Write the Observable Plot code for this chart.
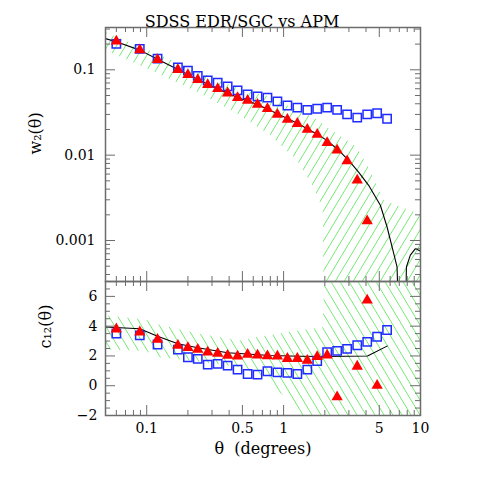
<!DOCTYPE html>
<html><head><meta charset="utf-8">
<script src="https://cdn.jsdelivr.net/npm/d3@7"></script>
<script src="https://cdn.jsdelivr.net/npm/@observablehq/plot@0.6"></script>
<style>
body{margin:0;background:#fff;}
#wrap{position:relative;width:491px;height:491px;}
#wrap svg{position:absolute;left:0;top:0;}
</style></head><body>
<div id="wrap"></div>
<script>
// ---- data ----
const theta = [0.060, 0.089, 0.120, 0.169, 0.200, 0.236, 0.279, 0.330, 0.390, 0.461, 0.546, 0.645, 0.762, 0.901, 1.066, 1.26, 1.49, 1.76, 2.08, 2.46, 2.91, 3.45, 4.08, 4.82, 5.70];
const w2APM  = [0.201, 0.176, 0.135, 0.107, 0.098, 0.085, 0.075, 0.0705, 0.0638, 0.0573, 0.0514, 0.0487, 0.0471, 0.0426, 0.0382, 0.036, 0.034, 0.035, 0.036, 0.034, 0.030, 0.0275, 0.030, 0.031, 0.0267];
const w2SDSS = [0.216, 0.171, 0.131, 0.100, 0.0874, 0.0764, 0.0668, 0.060, 0.0533, 0.0471, 0.0437, 0.0393, 0.035, 0.030, 0.0262, 0.0234, 0.020, 0.0175, 0.014, 0.0114, 0.00853, 0.00507, 0.00169, null, null];
const c12APM  = [3.51, 3.38, 2.77, 2.43, 1.91, 1.80, 1.42, 1.47, 1.35, 1.08, 0.79, 0.74, 0.97, 0.90, 0.86, 0.79, 1.08, 1.66, 2.25, 2.34, 2.48, 2.72, 2.95, 3.29, 3.74];
const c12SDSS = [3.8, 3.6, 3.1, 2.7, 2.55, 2.43, 2.25, 2.16, 2.03, 1.98, 2.09, 2.05, 2.0, 1.98, 1.82, 1.82, 1.70, 1.94, 2.05, -0.76, null, 1.30, 5.74, 0.02, null];

const lineTopTheta = [0.05, 0.06, 0.089, 0.12, 0.169, 0.236, 0.33, 0.461, 0.645, 0.901, 1.26, 1.76, 2.07, 2.45, 2.99, 3.53, 4.18, 5.09, 5.70, 6.37, 6.74, 6.95, 7.3, 7.77, 7.89, 8.43, 9.18, 9.71, 10];
const lineTopW = [0.232, 0.213, 0.170, 0.133, 0.101, 0.0770, 0.0600, 0.0475, 0.0392, 0.0305, 0.0236, 0.0176, 0.0149, 0.0119, 0.0087, 0.00634, 0.00443, 0.00259, 0.00144, 0.000705, 0.00049, 0.0001, null, 0.0001, 0.00049, 0.000673, 0.000805, 0.00077, 0.00075];
const lineBotTheta = [0.05, 0.089, 0.12, 0.169, 0.236, 0.39, 0.8, 1.3, 2.0, 4.1, 5.7];
const lineBotC = [3.94, 3.83, 3.33, 2.82, 2.55, 2.21, 2.03, 1.98, 1.96, 2.0, 2.66];

const bandTopTheta = [0.05, 0.1, 0.245, 0.48, 0.8, 1.26, 1.7, 1.95, 2.0, 3.45, 4.3, 5.36, 6.55, 10];
const bandTopHi = [0.273, 0.173, 0.093, 0.0589, 0.048, 0.0334, 0.0269, 0.0229, 0.022, 0.0123, 0.0066, 0.0030, 0.0026, 0.0020];
const bandTopLo = [0.168, 0.1035, 0.0529, 0.0292, 0.017, 0.0087, 0.0039, 0.00226, 0.00001, 0.00001, 0.00001, 0.00001, 0.00001, 0.00001];
const bandBotTheta = [0.05, 0.1, 0.12, 0.245, 0.48, 0.71, 0.8, 1.13, 1.32, 1.95, 2.0, 10];
const bandBotLo = [2.4, 2.3, 1.9, 1.6, 1.2, 0.6, 0.2, -1.2, -2.5, -2.5, -2.5, -2.5];
const bandBotHi = [4.7, 4.4, 4.1, 3.45, 3.0, 3.3, 3.35, 3.6, 3.7, 3.9, 7.5, 7.5];

const xMajor = [0.1, 0.5, 1, 5, 10];
const xLabels = ["0.1", "0.5", "1", "5", "10"];
const xMinor = [0.05, 0.06, 0.07, 0.08, 0.09, 0.2, 0.3, 0.4, 0.6, 0.7, 0.8, 0.9, 2, 3, 4, 6, 7, 8, 9];
const yTopMajor = [0.1, 0.01, 0.001];
const yTopLabels = ["0.1", "0.01", "0.001"];
const yTopMinor = [0.0004, 0.0005, 0.0006, 0.0007, 0.0008, 0.0009, 0.002, 0.003, 0.004, 0.005, 0.006, 0.007, 0.008, 0.009, 0.02, 0.03, 0.04, 0.05, 0.06, 0.07, 0.08, 0.09, 0.2, 0.3];
const yBotMajor = [-2, 0, 2, 4, 6];
const yBotLabels = ["\u22122", "0", "2", "4", "6"];
const yBotMinor = [-1.5, -1, -0.5, 0.5, 1, 1.5, 2.5, 3, 3.5, 4.5, 5, 5.5, 6.5, 7];

const titleText = "SDSS EDR/SGC vs APM";
const xTitle = "\u03B8  (degrees)";
const yTopTitle = "w\u2082(\u03B8)";
const yBotTitle = "c\u2081\u2082(\u03B8)";

// ---- styles ----
const AX = "#6c6c6c", BLUE = "#1f2bff", RED = "#ff0000", HATCH = "#74ea74";
const FONT = "DejaVu Serif, serif";
const W = 491, L = 105, R = 420, T1 = 27, B1 = 281, B2 = 415;

const idx = theta.map((_, i) => i);
const table = (xs, cols) => xs.map((x, i) => { const o = {x}; for (const k in cols) o[k] = cols[k][i]; return o; });

function xTicks(vals, len, H) {
  return [
    Plot.tickX(vals, {x: d => d, insetTop: H - len, stroke: AX, strokeWidth: 1}),
    Plot.tickX(vals, {x: d => d, insetBottom: H - len, stroke: AX, strokeWidth: 1})
  ];
}
function yTicks(vals, len) {
  const Wd = R - L;
  return [
    Plot.tickY(vals, {y: d => d, insetRight: Wd - len, stroke: AX, strokeWidth: 1}),
    Plot.tickY(vals, {y: d => d, insetLeft: Wd - len, stroke: AX, strokeWidth: 1})
  ];
}
// unrotated tile with a diagonal line (9 px horizontal spacing, ~59 degrees)
function addHatch(svg, id, forward) {
  const ns = "http://www.w3.org/2000/svg";
  const tw = 9, th = 15;
  const defs = document.createElementNS(ns, "defs");
  const p = document.createElementNS(ns, "pattern");
  p.setAttribute("id", id);
  p.setAttribute("patternUnits", "userSpaceOnUse");
  p.setAttribute("width", tw);
  p.setAttribute("height", th);
  const path = document.createElementNS(ns, "path");
  const d = forward
    ? `M${-tw},${th}L0,0M0,${th}L${tw},0M${tw},${th}L${2 * tw},0`
    : `M${-tw},0L0,${th}M0,0L${tw},${th}M${tw},0L${2 * tw},${th}`;
  path.setAttribute("d", d);
  path.setAttribute("stroke", HATCH);
  path.setAttribute("stroke-width", 1);
  path.setAttribute("fill", "none");
  p.appendChild(path); defs.appendChild(p);
  svg.insertBefore(defs, svg.firstChild);
}

const style = {fontFamily: FONT, fontSize: "14px", background: "transparent", color: "black", overflow: "visible"};

// ---- top panel ----
const H1 = B1 - T1;
const topPlot = Plot.plot({
  width: W, height: B1 + 2, marginTop: T1, marginBottom: 2, marginLeft: L, marginRight: W - R,
  style,
  x: {type: "log", domain: [0.05, 10], axis: null},
  y: {type: "log", domain: [0.000331, 0.313], axis: null},
  marks: [
    Plot.areaY(table(bandTopTheta, {lo: bandTopLo, hi: bandTopHi}), {x: "x", y1: "lo", y2: "hi", fill: "url(#hatchTop)", clip: true}),
    Plot.line(table(lineTopTheta, {w: lineTopW}), {x: "x", y: "w", stroke: "black", strokeWidth: 1.1, clip: true}),
    Plot.dot(idx.filter(i => w2APM[i] != null), {x: i => theta[i], y: i => w2APM[i], symbol: "square", r: 4.7, stroke: BLUE, strokeWidth: 1.5, fill: "none", clip: true}),
    Plot.dot(idx.filter(i => w2SDSS[i] != null), {x: i => theta[i], y: i => w2SDSS[i], symbol: "triangle", r: 4.2, fill: RED, clip: true}),
    ...xTicks(xMajor, 10, H1), ...xTicks(xMinor, 5, H1),
    ...yTicks(yTopMajor, 10), ...yTicks(yTopMinor, 5),
    Plot.frame({stroke: AX, strokeWidth: 1.5}),
    Plot.text(yTopMajor, {y: d => d, frameAnchor: "left", dx: -10, textAnchor: "end", text: (d, i) => yTopLabels[i], fontSize: 14}),
    Plot.text([yTopTitle], {frameAnchor: "left", dx: -70, rotate: -90, text: d => d, fontSize: 16}),
    Plot.text([titleText], {frameAnchor: "top", dy: -12, dx: -21, text: d => d, fontSize: 16})
  ]
});
addHatch(topPlot, "hatchTop", true);

// ---- bottom panel ----
const H2 = B2 - B1;
const botPlot = Plot.plot({
  width: W, height: W, marginTop: B1, marginBottom: W - B2, marginLeft: L, marginRight: W - R,
  style,
  x: {type: "log", domain: [0.05, 10], axis: null},
  y: {domain: [-2, 7], axis: null},
  marks: [
    Plot.areaY(table(bandBotTheta, {lo: bandBotLo, hi: bandBotHi}), {x: "x", y1: "lo", y2: "hi", fill: "url(#hatchBot)", clip: true}),
    Plot.line(table(lineBotTheta, {c: lineBotC}), {x: "x", y: "c", stroke: "black", strokeWidth: 1.1, clip: true}),
    Plot.dot(idx.filter(i => c12APM[i] != null), {x: i => theta[i], y: i => c12APM[i], symbol: "square", r: 4.7, stroke: BLUE, strokeWidth: 1.5, fill: "none", clip: true}),
    Plot.dot(idx.filter(i => c12SDSS[i] != null), {x: i => theta[i], y: i => c12SDSS[i], symbol: "triangle", r: 4.2, fill: RED, clip: true}),
    ...xTicks(xMajor, 10, H2), ...xTicks(xMinor, 5, H2),
    ...yTicks(yBotMajor, 10), ...yTicks(yBotMinor, 5),
    Plot.frame({stroke: AX, strokeWidth: 1.5}),
    Plot.text(yBotMajor, {y: d => d, frameAnchor: "left", dx: -8, textAnchor: "end", text: (d, i) => yBotLabels[i], fontSize: 14}),
    Plot.text(xMajor, {x: d => d, frameAnchor: "bottom", dy: 17, text: (d, i) => xLabels[i], fontSize: 14}),
    Plot.text([yBotTitle], {frameAnchor: "left", dx: -60, rotate: -90, text: d => d, fontSize: 16}),
    Plot.text([xTitle], {frameAnchor: "bottom", dy: 38, text: d => d, fontSize: 16})
  ]
});
addHatch(botPlot, "hatchBot", false);

const wrap = document.getElementById("wrap");
wrap.appendChild(topPlot);
wrap.appendChild(botPlot);
</script>
</body></html>
